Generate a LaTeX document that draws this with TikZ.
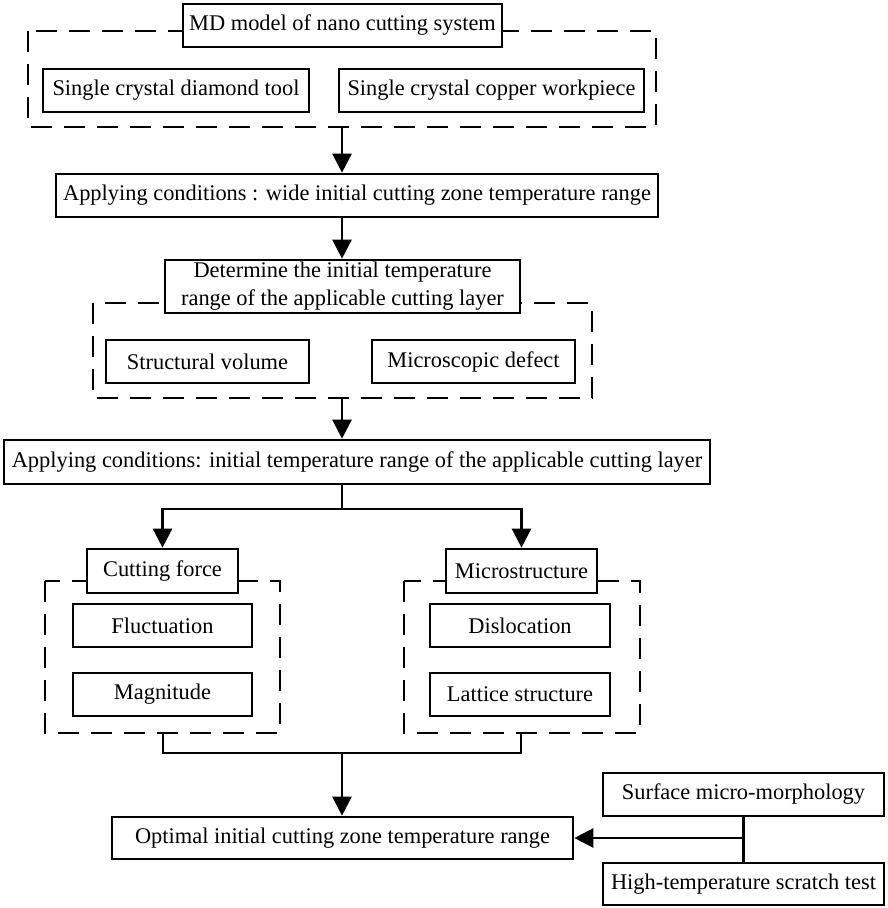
\documentclass[tikz,border=0pt]{standalone}
\usepackage{fontspec}
\setmainfont{Liberation Serif}
\usetikzlibrary{arrows.meta}
\begin{document}
\begin{tikzpicture}[x=1pt,y=-1pt,
  every node/.style={font=\fontsize{22.4}{28}\selectfont},
  bx/.style={draw,line width=2.7pt,fill=white,inner sep=0pt,align=center},
  dbox/.style={draw,line width=2.7pt,dash pattern=on 21pt off 12pt},
  conn/.style={line width=2.6pt},
  arr/.style={line width=2.6pt,-{Triangle[length=19pt,width=19pt]}}]
\useasboundingbox (0,0) rectangle (887,908);
% dashed groups
\draw[dbox] (28,31) coordinate (d1nw) rectangle (656,127) coordinate (d1se);
\draw[dbox] (93,303) coordinate (d2nw) rectangle (592,398) coordinate (d2se);
\draw[dbox] (45,581) coordinate (d3nw) rectangle (280,733) coordinate (d3se);
\draw[dbox] (404,581) coordinate (d4nw) rectangle (640,733) coordinate (d4se);
% boxes
\node[bx,minimum width=319pt,minimum height=43pt] (md) at (342.5,25.5) {MD model of nano cutting system};
\node[bx,minimum width=266pt,minimum height=43pt] (tool) at (176,90.5) {Single crystal diamond tool};
\node[bx,minimum width=305pt,minimum height=43pt] (work) at (491.5,90.5) {Single crystal copper workpiece};
\node[bx,minimum width=602pt,minimum height=43pt] (app1) at (357,195.5) {Applying conditions : wide initial cutting zone temperature range};
\node[bx,minimum width=355pt,minimum height=53pt] (det) at (342.5,286.5) {Determine the initial temperature\\range of the applicable cutting layer};
\node[bx,minimum width=203pt,minimum height=43pt] (sv) at (207.5,361.5) {Structural volume};
\node[bx,minimum width=203pt,minimum height=43pt] (mdf) at (473.5,361.5) {Microscopic defect};
\node[bx,minimum width=706pt,minimum height=44pt] (app2) at (357,462) {Applying conditions: initial temperature range of the applicable cutting layer};
\node[bx,minimum width=151pt,minimum height=44pt] (cf) at (162.5,571) {Cutting force};
\node[bx,minimum width=179pt,minimum height=43pt] (fl) at (162.5,625.5) {Fluctuation};
\node[bx,minimum width=179pt,minimum height=43pt] (mag) at (162.5,694.5) {Magnitude};
\node[bx,minimum width=151pt,minimum height=44pt] (ms) at (521.5,571) {Microstructure};
\node[bx,minimum width=180pt,minimum height=43pt] (dis) at (520,625.5) {Dislocation};
\node[bx,minimum width=180pt,minimum height=43pt] (lat) at (520,694.5) {Lattice structure};
\node[bx,minimum width=461pt,minimum height=42pt] (opt) at (342.5,838) {Optimal initial cutting zone temperature range};
\node[bx,minimum width=281pt,minimum height=43pt] (surf) at (743.5,794.5) {Surface micro-morphology};
\node[bx,minimum width=281pt,minimum height=42pt] (high) at (743.5,884) {High-temperature scratch test};
% connectors
\coordinate (c1) at (342,127);
\draw[arr] (c1) -- (c1 |- app1.north);
\draw[arr] (c1 |- app1.south) -- (c1 |- det.north);
\coordinate (c2) at (342,398);
\draw[arr] (c2) -- (c2 |- app2.north);
\coordinate (br) at (342,509);
\draw[conn] (c1 |- app2.south) -- (br);
\draw[arr] (br) -| (cf.north);
\draw[arr] (br) -| (ms.north);
\coordinate (jl) at (163,753);
\coordinate (jr) at (521,753);
\coordinate (jm) at (342,753);
\draw[conn] (163,733) -- (jl) -- (jr) -- (521,733);
\draw[arr] (jm) -- (jm |- opt.north);
\draw[conn] (surf.south) -- (high.north);
\coordinate (sj) at (743,838);
\draw[arr] (sj) -- (opt.east);
\end{tikzpicture}
\end{document}
